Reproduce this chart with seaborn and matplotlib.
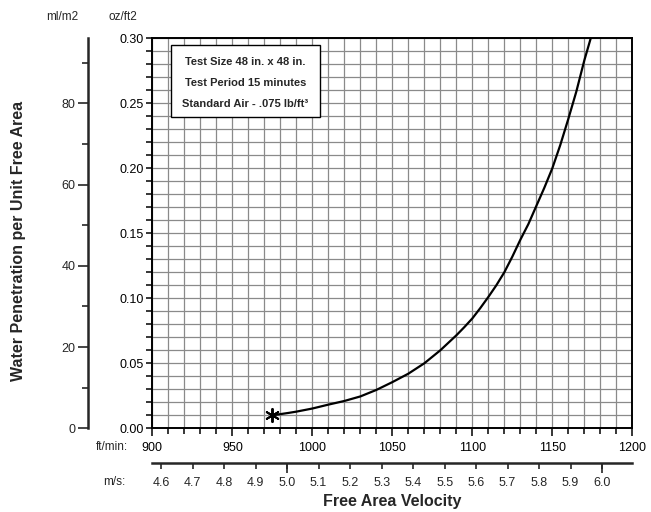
import numpy as np
import pandas as pd
import matplotlib.pyplot as plt
from matplotlib.patches import Rectangle
from matplotlib.ticker import MultipleLocator, FixedLocator
import seaborn as sns

# values
velocity_fpm = [975, 985, 990, 1000, 1010, 1020, 1030, 1040, 1050, 1060, 1070, 1080,
                1090, 1095, 1100, 1105, 1110, 1115, 1120, 1125, 1130, 1135, 1140, 1145,
                1150, 1155, 1160, 1165, 1170, 1174]
penetration_oz = [0.010, 0.0118, 0.0128, 0.0152, 0.0182, 0.021, 0.0245, 0.0295, 0.0355,
                  0.042, 0.050, 0.060, 0.0715, 0.0778, 0.0845, 0.0925, 0.101, 0.110,
                  0.120, 0.132, 0.145, 0.157, 0.171, 0.185, 0.200, 0.218, 0.238, 0.259,
                  0.283, 0.300]
start_point = {"x": [975], "y": [0.010]}
ms_ticks = [4.6, 4.7, 4.8, 4.9, 5.0, 5.1, 5.2, 5.3, 5.4, 5.5, 5.6, 5.7, 5.8, 5.9, 6.0]
ml_ticks = [0, 20, 40, 60, 80]
box_lines = ["Test Size 48 in. x 48 in.", "Test Period 15 minutes",
             "Standard Air - .075 lb/ft\u00b3"]

OZ_TO_ML = 320.0       # ml/m2 per oz/ft2 (as drawn)
FPM_TO_MS = 0.00508

sns.set_style("white")
plt.rcParams["font.family"] = ["Liberation Sans", "DejaVu Sans"]

df = pd.DataFrame({"v": velocity_fpm, "w": penetration_oz})

fig = plt.figure(figsize=(6.51, 5.12), dpi=100)
ax = fig.add_axes([0.234, 0.1635, 0.7373, 0.7617])

ax.set_xlim(900, 1200)
ax.set_ylim(0, 0.30)

# grid paper
ax.xaxis.set_major_locator(MultipleLocator(50))
ax.xaxis.set_minor_locator(MultipleLocator(10))
ax.yaxis.set_major_locator(MultipleLocator(0.05))
ax.yaxis.set_minor_locator(MultipleLocator(0.01))
ax.grid(True, which="both", color="#8a8a8a", lw=0.9)
ax.set_axisbelow(True)

sns.lineplot(data=df, x="v", y="w", color="black", lw=1.6, ax=ax, zorder=3)
sns.scatterplot(x=start_point["x"], y=start_point["y"], marker=(6, 2, 0), s=90,
                color="black", linewidth=1.4, ax=ax, zorder=4)

ax.set_xlabel("")
ax.set_ylabel("")
for s in ax.spines.values():
    s.set_color("black")
    s.set_linewidth(1.4)
ax.tick_params(axis="both", which="both", direction="out", length=4, width=1.1,
               colors="black", labelsize=9, left=True, bottom=True)
ax.tick_params(axis="x", which="major", length=6, pad=4)
ax.tick_params(axis="y", which="major", pad=2)
ax.xaxis.set_major_formatter(lambda v, p: f"{v:.0f}")
ax.yaxis.set_major_formatter(lambda v, p: f"{v:.2f}")

# info box
ax.add_patch(Rectangle((0.0385, 0.7975), 0.31, 0.1865, transform=ax.transAxes,
                       facecolor="white", edgecolor="black", lw=1.0, zorder=5))
for i, t in enumerate(box_lines):
    ax.text(0.1935, 0.9385 - i * 0.054, t, transform=ax.transAxes, ha="center",
            va="center", fontsize=8, fontweight="bold", zorder=6)

# ml/m2 axis on the left
sy = ax.secondary_yaxis(-0.134, functions=(lambda y: y * OZ_TO_ML, lambda y: y / OZ_TO_ML))
sy.yaxis.set_major_locator(FixedLocator(ml_ticks))
sy.yaxis.set_minor_locator(FixedLocator([10, 30, 50, 70, 90]))
sy.spines["left"].set_linewidth(1.8)
sy.tick_params(which="major", length=7, width=1.2, labelsize=9, pad=2)
sy.tick_params(which="minor", length=4, width=1.2)

# m/s axis below
sx = ax.secondary_xaxis(-0.0897, functions=(lambda x: x * FPM_TO_MS, lambda x: x / FPM_TO_MS))
sx.xaxis.set_major_locator(FixedLocator(ms_ticks))
sx.xaxis.set_minor_locator(FixedLocator([5.0, 6.0]))
sx.xaxis.remove_overlapping_locs = False
sx.xaxis.set_major_formatter(lambda v, p: f"{v:.1f}")
sx.spines["bottom"].set_linewidth(1.8)
sx.tick_params(which="major", length=4, width=1.2, labelsize=9, pad=6)
sx.tick_params(which="minor", length=7, width=1.2)

# labels
fig.text(62 / 651, 1 - 16.5 / 512, "ml/m2", ha="center", va="center", fontsize=8.5)
fig.text(123 / 651, 1 - 16.5 / 512, "oz/ft2", ha="center", va="center", fontsize=8.5)
fig.text(128 / 651, 1 - 446.5 / 512, "ft/min:", ha="right", va="center", fontsize=8.5)
fig.text(125 / 651, 1 - 481.7 / 512, "m/s:", ha="right", va="center", fontsize=8.5)
fig.text(392 / 651, 1 - 501.7 / 512, "Free Area Velocity", ha="center", va="center",
         fontsize=11.5, fontweight="bold")
fig.text(19 / 651, 0.53, "Water Penetration per Unit Free Area", rotation=90,
         ha="center", va="center", fontsize=11.5, fontweight="bold")

fig.savefig("out.png", dpi=100)
